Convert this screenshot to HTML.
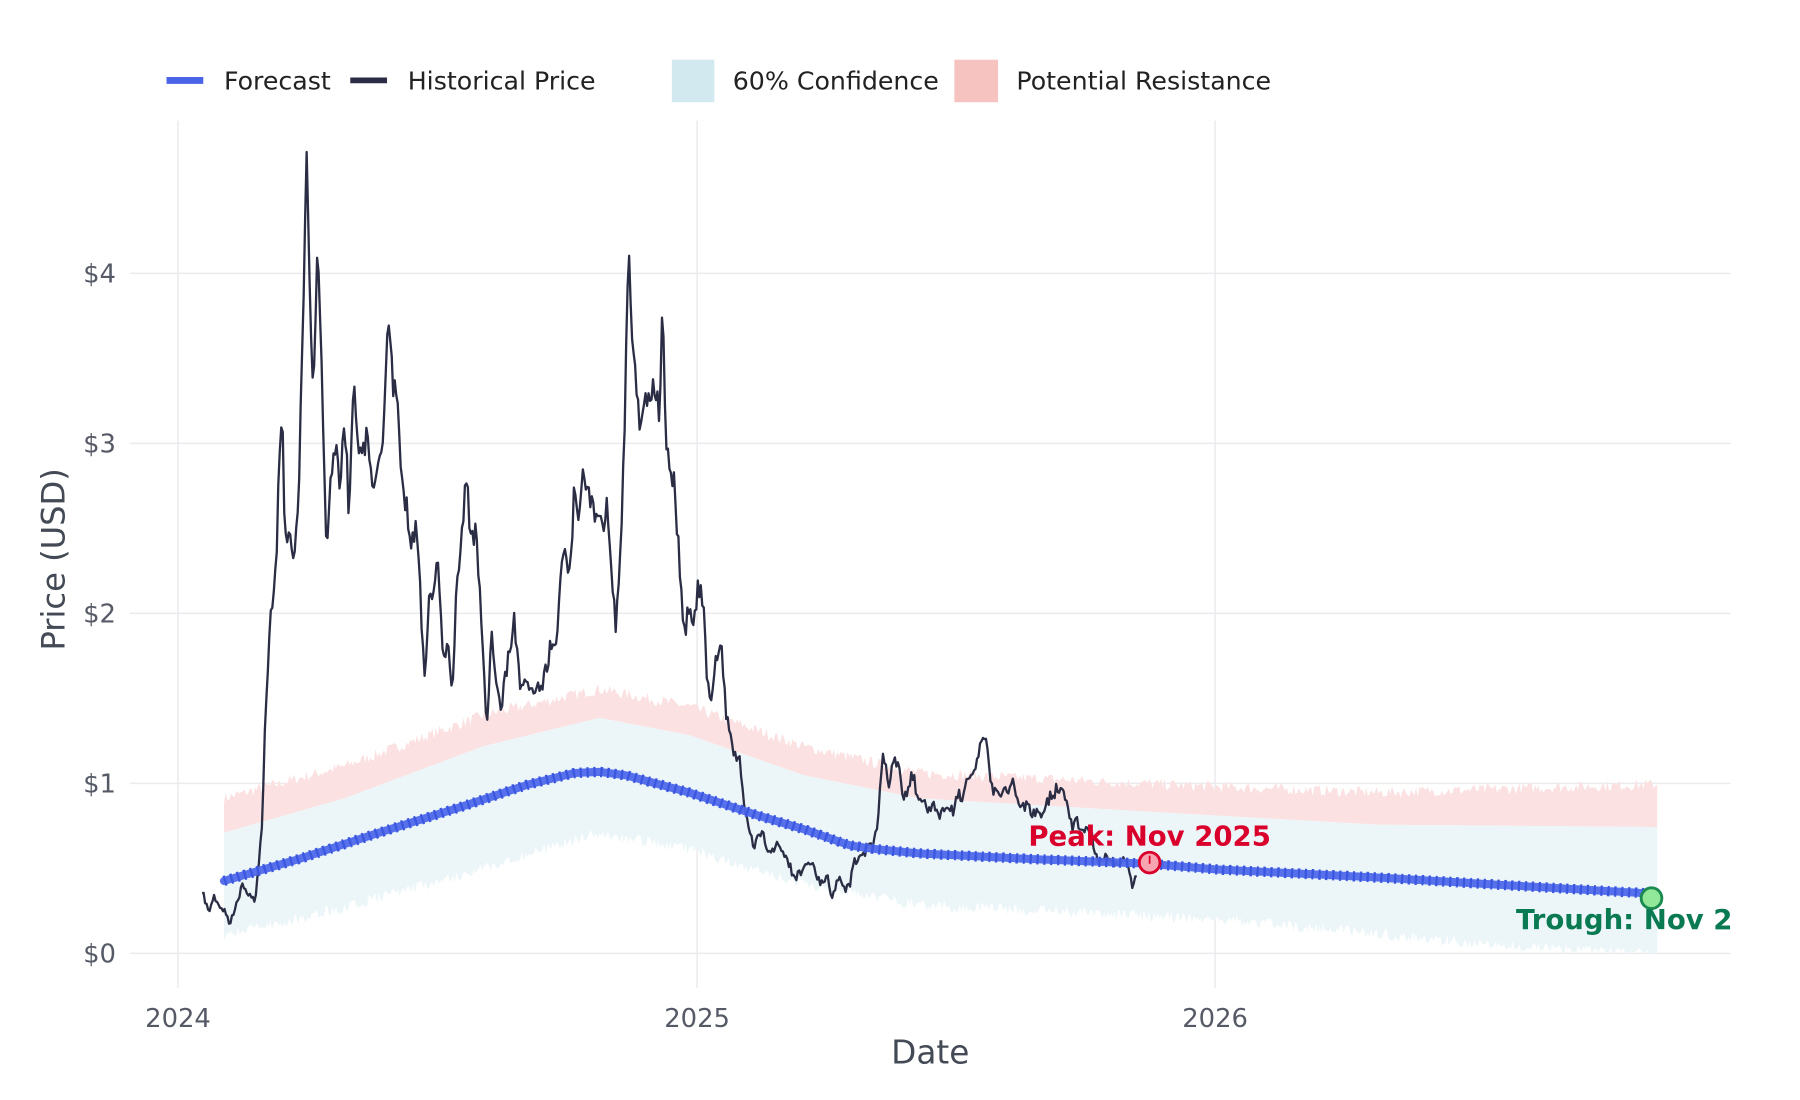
<!DOCTYPE html>
<html><head><meta charset="utf-8"><style>
html,body{margin:0;padding:0;background:#fff;}
svg{display:block;font-family:"DejaVu Sans","Liberation Sans",sans-serif;}
</style></head><body>
<svg id="s" width="1800" height="1100" viewBox="0 0 1567.3 957.7" preserveAspectRatio="none" xmlns="http://www.w3.org/2000/svg">
<rect width="1567.3" height="957.7" fill="#fff"/>
<g stroke="#ebebef" stroke-width="1.3">
<line x1="113" x2="1507" y1="830" y2="830"/><line x1="113" x2="1507" y1="682" y2="682"/>
<line x1="113" x2="1507" y1="534" y2="534"/><line x1="113" x2="1507" y1="386" y2="386"/>
<line x1="113" x2="1507" y1="238" y2="238"/>
<line x1="155" x2="155" y1="105" y2="860"/><line x1="607" x2="607" y1="105" y2="860"/><line x1="1058" x2="1058" y1="105" y2="860"/>
</g>
<g id="bands"></g>
<g id="lines"></g>
<g fill="#555a66" font-size="22.5" text-anchor="end">
<text x="101" y="838">$0</text><text x="101" y="690">$1</text><text x="101" y="542">$2</text><text x="101" y="394">$3</text><text x="101" y="246">$4</text>
</g>
<g fill="#555a66" font-size="22.5" text-anchor="middle">
<text x="155" y="894">2024</text><text x="607" y="894">2025</text><text x="1058" y="894">2026</text>
</g>
<text x="810" y="926" font-size="28.5" fill="#444a55" text-anchor="middle">Date</text>
<text transform="translate(56,487) rotate(-90)" font-size="28" fill="#444a55" text-anchor="middle">Price (USD)</text>
<g font-size="22" fill="#222">
<line x1="145" x2="177" y1="70" y2="70" stroke="#4a63e8" stroke-width="6"/>
<text x="195" y="78">Forecast</text>
<line x1="305" x2="337" y1="70" y2="70" stroke="#2a2d44" stroke-width="5"/>
<text x="355" y="78">Historical Price</text>
<rect x="585" y="52" width="37" height="37" fill="#d3e9f0"/>
<text x="638" y="78">60% Confidence</text>
<rect x="831" y="52" width="38" height="37" fill="#f7c3c0"/>
<text x="885" y="78">Potential Resistance</text>
</g>
<circle cx="1001" cy="751" r="9" fill="#f7a5b0" stroke="#d9002b" stroke-width="2.5"/>
<line x1="1001" y1="745" x2="1001" y2="752" stroke="#d9002b" stroke-width="1.5"/>
<text x="1001" y="736" font-size="24" font-weight="bold" fill="#d9002b" text-anchor="middle">Peak: Nov 2025</text>
<circle cx="1438" cy="782" r="9" fill="#90e898" stroke="#1a8a50" stroke-width="2.5"/>
<svg x="0" y="0" width="1508" height="950" overflow="hidden"><text x="1320" y="809" font-size="24" font-weight="bold" fill="#0a7a52">Trough: Nov 2026</text></svg>
</svg>
<script>
var NS="http://www.w3.org/2000/svg";
var seed=7;function rnd(){seed=(seed*16807)%2147483647;return seed/2147483647;}
function interp(pts,x){for(var i=0;i<pts.length-1;i++){if(x<=pts[i+1][0]){var a=pts[i],b=pts[i+1];var t=(x-a[0])/(b[0]-a[0]);return a[1]+t*(b[1]-a[1]);}}return pts[pts.length-1][1];}
var fc=[[195,767],[260,748],[330,725],[400,703],[460,683],[500,673],[522,672],[545,675],[600,690],[660,710],[700,722],[740,736],[760,739],[800,743],[900,748],[1000,752],[1060,757],[1200,764],[1300,770],[1438,778]];
var bt=[[195,725],[300,695],[420,650],[522,625],[600,640],[700,675],[800,695],[1058,710],[1200,718],[1438,720]];
var rt=[[195,700],[300,672],[420,628],[522,605],[600,620],[700,655],[800,678],[1058,690],[1200,695],[1438,688]];
var bb=[[195,810],[300,785],[420,752],[522,720],[600,735],[700,765],[800,783],[1058,795],[1200,808],[1300,818],[1438,826]];
var xs=[];for(var x=195;x<=1443;x+=1.5)xs.push(x);
function poly(top,bot,col,nt,nb){var p=[];xs.forEach(function(x){p.push(x+","+(interp(top,x)-rnd()*nt))});for(var i=xs.length-1;i>=0;i--){p.push(xs[i]+","+Math.min(830,interp(bot,xs[i])+rnd()*nb))}var e=document.createElementNS(NS,"polygon");e.setAttribute("points",p.join(" "));e.setAttribute("fill",col);document.getElementById("bands").appendChild(e);}
poly(rt,bt,"#fbe1e1",10,0);
poly(bt,bb,"#ecf6f9",0,10);
var h=[[176,775],[182,795],[186,778],[190,790],[196,792],[200,805],[206,785],[212,770],[216,780],[222,785],[228,720],[232,600],[236,530],[240,500],[244,380],[246,360],[248,480],[252,450],[256,500],[260,430],[264,270],[267,140],[270,280],[273,350],[276,205],[280,300],[284,480],[288,420],[292,380],[296,420],[300,360],[304,450],[308,330],[312,380],[316,400],[320,380],[324,420],[330,400],[334,380],[338,270],[342,340],[346,330],[350,420],[354,440],[358,480],[362,450],[366,520],[370,590],[374,520],[378,510],[382,490],[386,580],[390,560],[394,600],[398,500],[402,470],[406,410],[410,470],[414,460],[418,520],[422,590],[424,640],[428,550],[432,600],[436,620],[440,590],[444,560],[448,540],[452,590],[456,600],[460,590],[464,610],[468,590],[472,600],[476,580],[480,560],[484,570],[488,500],[492,470],[496,500],[500,430],[504,450],[508,410],[512,430],[516,440],[520,450],[524,460],[528,440],[532,490],[536,545],[540,480],[544,380],[547,210],[550,300],[554,340],[558,370],[562,350],[566,340],[570,330],[574,360],[577,255],[580,390],[584,400],[588,430],[592,500],[596,550],[600,530],[604,550],[608,510],[612,520],[616,600],[620,610],[624,570],[628,560],[632,620],[636,640],[640,660],[644,660],[648,700],[652,720],[656,740],[660,730],[664,725],[668,740],[672,740],[676,735],[680,740],[684,745],[688,755],[692,765],[696,760],[700,755],[704,750],[708,755],[712,765],[716,770],[720,760],[724,780],[728,770],[732,765],[736,775],[740,770],[744,750],[748,745],[752,745],[756,735],[760,740],[764,720],[768,660],[770,660],[774,685],[778,665],[782,660],[786,690],[790,695],[794,670],[798,690],[802,700],[806,700],[810,705],[814,700],[818,710],[822,705],[826,700],[830,705],[834,690],[838,695],[842,680],[846,672],[850,670],[854,650],[858,640],[862,680],[866,690],[870,695],[874,685],[878,690],[882,680],[886,700],[890,705],[894,700],[898,710],[902,705],[906,710],[910,700],[914,695],[918,690],[922,685],[926,690],[930,705],[934,720],[938,715],[942,720],[946,725],[950,722],[954,745],[958,750],[962,745],[966,748],[970,750],[974,752],[978,748],[982,752],[986,770],[990,760]];
var d="";for(var x=176;x<=990;x+=1.3){var y=interp(h,x);var amp=(830-y)*0.025+2;y+= (rnd()-0.5)*amp*2;d+=(d?"L":"M")+x.toFixed(1)+","+y.toFixed(1);}
var L=document.getElementById("lines");
var p=document.createElementNS(NS,"path");p.setAttribute("d",d);p.setAttribute("fill","none");p.setAttribute("stroke","#2a2d44");p.setAttribute("stroke-width","2");p.setAttribute("stroke-linejoin","round");L.appendChild(p);
var f="";for(var x=195;x<=1438;x+=2){f+=(f?"L":"M")+x+","+interp(fc,x).toFixed(1);}
var q=document.createElementNS(NS,"path");q.setAttribute("d",f);q.setAttribute("fill","none");q.setAttribute("stroke","#4f68ea");q.setAttribute("stroke-width","7");q.setAttribute("stroke-opacity","0.95");q.setAttribute("stroke-linecap","round");L.appendChild(q);
var q2=document.createElementNS(NS,"path");q2.setAttribute("d",f);q2.setAttribute("fill","none");q2.setAttribute("stroke","#3b57e0");q2.setAttribute("stroke-width","9");q2.setAttribute("stroke-dasharray","2 4");L.appendChild(q2);
</script>
</body></html>
